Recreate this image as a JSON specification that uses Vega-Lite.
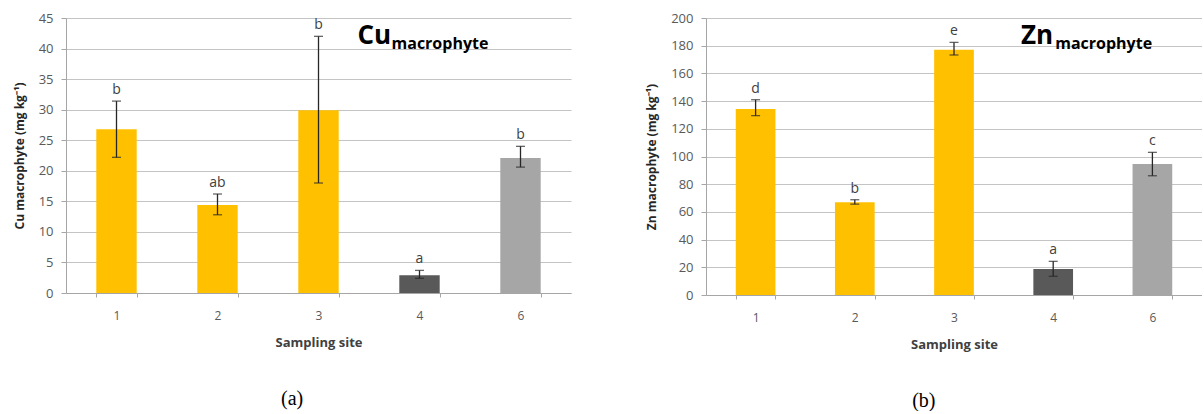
{
  "$schema": "https://vega.github.io/schema/vega-lite/v6.json",
  "background": "white",
  "padding": {"left": 13, "top": 12, "right": 0, "bottom": 0},
  "spacing": 74,
  "config": {
    "view": {"stroke": null},
    "font": "Open Sans",
    "axisX": {
      "domainColor": "#a6a6a6",
      "tickColor": "#a6a6a6",
      "tickSize": 4,
      "tickBand": "extent",
      "labelColor": "#595959",
      "labelFontSize": 12,
      "labelAngle": 0,
      "labelPadding": 13,
      "titleFontSize": 13,
      "titleFontWeight": "bold",
      "titleColor": "#404040",
      "titlePadding": 15,
      "grid": false
    },
    "axisY": {
      "domainColor": "#a6a6a6",
      "tickColor": "#a6a6a6",
      "tickSize": 5,
      "gridColor": "#c4c4c4",
      "labelColor": "#595959",
      "labelFontSize": 13,
      "labelPadding": 8,
      "labelOverlap": false,
      "labelBound": false,
      "titleFontSize": 12,
      "titleFontWeight": "bold",
      "titleColor": "#262626",
      "titlePadding": 12
    },
    "title": {"font": "Liberation Serif", "fontSize": 20, "fontWeight": "normal", "color": "#000000"}
  },
  "datasets": {
    "cu": [
      {"site": "1", "mean": 26.8, "lo": 22.2, "hi": 31.4, "group": "A", "letter": "b"},
      {"site": "2", "mean": 14.4, "lo": 12.8, "hi": 16.2, "group": "A", "letter": "ab"},
      {"site": "3", "mean": 29.9, "lo": 18.0, "hi": 42.0, "group": "A", "letter": "b"},
      {"site": "4", "mean": 2.9, "lo": 2.4, "hi": 3.7, "group": "B", "letter": "a"},
      {"site": "6", "mean": 22.1, "lo": 20.6, "hi": 24.0, "group": "C", "letter": "b"}
    ],
    "zn": [
      {"site": "1", "mean": 134.3, "lo": 129.5, "hi": 141.0, "group": "A", "letter": "d"},
      {"site": "2", "mean": 66.9, "lo": 65.6, "hi": 68.8, "group": "A", "letter": "b"},
      {"site": "3", "mean": 177.1, "lo": 173.3, "hi": 182.4, "group": "A", "letter": "e"},
      {"site": "4", "mean": 18.8, "lo": 13.5, "hi": 24.3, "group": "B", "letter": "a"},
      {"site": "6", "mean": 94.6, "lo": 86.1, "hi": 103.0, "group": "C", "letter": "c"}
    ]
  },
  "hconcat": [
    {
      "width": 505,
      "height": 275,
      "title": {"text": "(a)", "orient": "bottom", "anchor": "middle", "frame": "bounds", "offset": 40},
      "data": {"name": "cu"},
      "encoding": {
        "x": {"field": "site", "type": "nominal", "title": "Sampling site",
              "scale": {"paddingInner": 0.6, "paddingOuter": 0.3}}
      },
      "layer": [
        {
          "mark": {"type": "bar"},
          "encoding": {
            "y": {"field": "mean", "type": "quantitative", "title": "Cu macrophyte (mg kg⁻¹)",
                  "scale": {"domain": [0, 45], "nice": false},
                  "axis": {"values": [0, 5, 10, 15, 20, 25, 30, 35, 40, 45]}},
            "color": {"field": "group", "type": "nominal", "legend": null,
                      "scale": {"domain": ["A", "B", "C"], "range": ["#FFC000", "#595959", "#A6A6A6"]}}
          }
        },
        {
          "mark": {"type": "rule", "color": "#262626", "strokeWidth": 1.3},
          "encoding": {"y": {"field": "lo", "type": "quantitative", "title": "Cu macrophyte (mg kg⁻¹)", "axis": {"values": [0, 5, 10, 15, 20, 25, 30, 35, 40, 45]}}, "y2": {"field": "hi"}}
        },
        {
          "mark": {"type": "tick", "color": "#262626", "thickness": 1.3, "size": 9},
          "encoding": {"y": {"field": "lo", "type": "quantitative", "title": "Cu macrophyte (mg kg⁻¹)", "axis": {"values": [0, 5, 10, 15, 20, 25, 30, 35, 40, 45]}}}
        },
        {
          "mark": {"type": "tick", "color": "#262626", "thickness": 1.3, "size": 9},
          "encoding": {"y": {"field": "hi", "type": "quantitative", "title": "Cu macrophyte (mg kg⁻¹)", "axis": {"values": [0, 5, 10, 15, 20, 25, 30, 35, 40, 45]}}}
        },
        {
          "mark": {"type": "text", "baseline": "bottom", "dy": -4, "fontSize": 14, "color": "#404040"},
          "encoding": {"y": {"field": "hi", "type": "quantitative", "title": "Cu macrophyte (mg kg⁻¹)", "axis": {"values": [0, 5, 10, 15, 20, 25, 30, 35, 40, 45]}}, "text": {"field": "letter"}}
        },
        {
          "data": {"values": [{}]},
          "mark": {"type": "text", "text": "Cu", "fontSize": 26, "fontWeight": "bold", "align": "left", "baseline": "alphabetic", "dx": 39, "color": "#000000"},
          "encoding": {"x": {"datum": "3"}, "y": {"datum": 40.7, "axis": {"values": [0, 5, 10, 15, 20, 25, 30, 35, 40, 45]}}}
        },
        {
          "data": {"values": [{}]},
          "mark": {"type": "text", "text": "macrophyte", "fontSize": 16, "fontWeight": "bold", "align": "left", "baseline": "alphabetic", "dx": 73, "dy": 5, "color": "#000000"},
          "encoding": {"x": {"datum": "3"}, "y": {"datum": 40.7, "axis": {"values": [0, 5, 10, 15, 20, 25, 30, 35, 40, 45]}}}
        }
      ]
    },
    {
      "width": 496,
      "height": 277,
      "title": {"text": "(b)", "orient": "bottom", "anchor": "middle", "frame": "bounds", "offset": 40},
      "data": {"name": "zn"},
      "encoding": {
        "x": {"field": "site", "type": "nominal", "title": "Sampling site",
              "scale": {"paddingInner": 0.6, "paddingOuter": 0.3}}
      },
      "layer": [
        {
          "mark": {"type": "bar"},
          "encoding": {
            "y": {"field": "mean", "type": "quantitative", "title": "Zn macrophyte (mg kg⁻¹)",
                  "scale": {"domain": [0, 200], "nice": false},
                  "axis": {"values": [0, 20, 40, 60, 80, 100, 120, 140, 160, 180, 200]}},
            "color": {"field": "group", "type": "nominal", "legend": null,
                      "scale": {"domain": ["A", "B", "C"], "range": ["#FFC000", "#595959", "#A6A6A6"]}}
          }
        },
        {
          "mark": {"type": "rule", "color": "#262626", "strokeWidth": 1.3},
          "encoding": {"y": {"field": "lo", "type": "quantitative", "title": "Zn macrophyte (mg kg⁻¹)", "axis": {"values": [0, 20, 40, 60, 80, 100, 120, 140, 160, 180, 200]}}, "y2": {"field": "hi"}}
        },
        {
          "mark": {"type": "tick", "color": "#262626", "thickness": 1.3, "size": 9},
          "encoding": {"y": {"field": "lo", "type": "quantitative", "title": "Zn macrophyte (mg kg⁻¹)", "axis": {"values": [0, 20, 40, 60, 80, 100, 120, 140, 160, 180, 200]}}}
        },
        {
          "mark": {"type": "tick", "color": "#262626", "thickness": 1.3, "size": 9},
          "encoding": {"y": {"field": "hi", "type": "quantitative", "title": "Zn macrophyte (mg kg⁻¹)", "axis": {"values": [0, 20, 40, 60, 80, 100, 120, 140, 160, 180, 200]}}}
        },
        {
          "mark": {"type": "text", "baseline": "bottom", "dy": -4, "fontSize": 14, "color": "#404040"},
          "encoding": {"y": {"field": "hi", "type": "quantitative", "title": "Zn macrophyte (mg kg⁻¹)", "axis": {"values": [0, 20, 40, 60, 80, 100, 120, 140, 160, 180, 200]}}, "text": {"field": "letter"}}
        },
        {
          "data": {"values": [{}]},
          "mark": {"type": "text", "text": "Zn", "fontSize": 26, "fontWeight": "bold", "align": "right", "baseline": "alphabetic", "dx": 0, "color": "#000000"},
          "encoding": {"x": {"datum": "4"}, "y": {"datum": 181.2, "axis": {"values": [0, 20, 40, 60, 80, 100, 120, 140, 160, 180, 200]}}}
        },
        {
          "data": {"values": [{}]},
          "mark": {"type": "text", "text": "macrophyte", "fontSize": 16, "fontWeight": "bold", "align": "left", "baseline": "alphabetic", "dx": 2, "dy": 5, "color": "#000000"},
          "encoding": {"x": {"datum": "4"}, "y": {"datum": 181.2, "axis": {"values": [0, 20, 40, 60, 80, 100, 120, 140, 160, 180, 200]}}}
        }
      ]
    }
  ]
}
